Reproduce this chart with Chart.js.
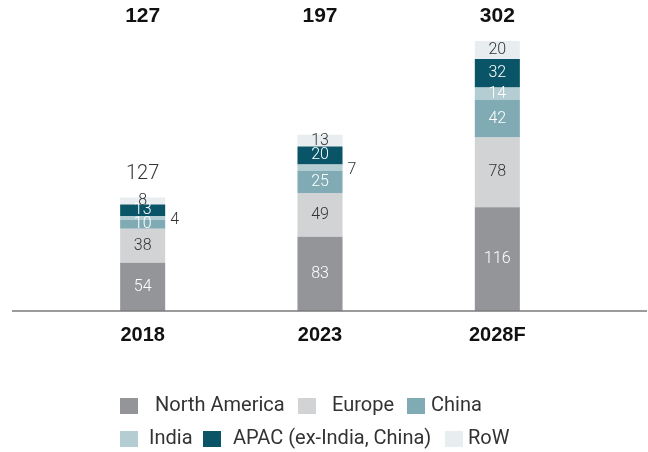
<!DOCTYPE html>
<html>
<head>
<meta charset="utf-8">
<script src="https://cdn.jsdelivr.net/npm/chart.js@4"></script>
<style>
  body { margin: 0; background: #fff; }
</style>
</head>
<body>
<canvas id="marketChart" width="648" height="452"></canvas>
<script>
'use strict';

// Data
const categories = ['2018', '2023', '2028F'];
const northAmerica = [54, 83, 116];
const europe = [38, 49, 78];
const china = [10, 25, 42];
const india = [4, 7, 14];
const apac = [13, 20, 32];
const restOfWorld = [8, 13, 20];

const labelFont = 'Roboto, "Open Sans", sans-serif';
const boldFont = '"Liberation Sans", Arial, sans-serif';

// Value labels in / beside each segment, plus totals
const segmentLabels = {
  id: 'segmentLabels',
  afterDatasetsDraw(chart) {
    const ctx = chart.ctx;
    ctx.save();
    ctx.font = '300 16px ' + labelFont;
    ctx.textBaseline = 'middle';
    chart.data.datasets.forEach((ds, di) => {
      const meta = chart.getDatasetMeta(di);
      meta.data.forEach((bar, i) => {
        const v = ds.data[i];
        if (ds.label === 'India' && v < 10) {
          ctx.fillStyle = '#333';
          ctx.textAlign = 'left';
          ctx.fillText(String(v), bar.x + bar.width / 2 + 5, (bar.y + bar.base) / 2 + 2);
        } else {
          ctx.fillStyle = ds.labelColor;
          ctx.textAlign = 'center';
          ctx.fillText(String(v), bar.x, (bar.y + bar.base) / 2);
        }
      });
    });

    // totals
    const last = chart.getDatasetMeta(chart.data.datasets.length - 1);
    categories.forEach((c, i) => {
      const total = chart.data.datasets.reduce((s, ds) => s + ds.data[i], 0);
      const bar = last.data[i];
      ctx.fillStyle = '#111';
      ctx.textAlign = 'center';
      ctx.font = 'bold 21px ' + boldFont;
      ctx.fillText(String(total), bar.x, 16);
      if (i === 0) {
        ctx.fillStyle = '#333';
        ctx.font = '300 20px ' + labelFont;
        ctx.fillText(String(total), bar.x, bar.y - 23);
      }
    });

    // baseline
    ctx.strokeStyle = '#7a7a7a';
    ctx.lineWidth = 1.5;
    ctx.beginPath();
    ctx.moveTo(12, chart.chartArea.bottom);
    ctx.lineTo(647, chart.chartArea.bottom);
    ctx.stroke();
    ctx.restore();
  }
};

// Legend drawn in two rows like the original
const legendRows = {
  id: 'legendRows',
  afterDraw(chart) {
    const ctx = chart.ctx;
    const spots = [
      [120, 155, 406], [298, 332, 406], [407, 431, 406],
      [120, 149, 439], [203, 233, 439], [445, 468, 439],
    ];
    ctx.save();
    ctx.font = '20px ' + labelFont;
    ctx.textBaseline = 'middle';
    ctx.textAlign = 'left';
    chart.data.datasets.forEach((ds, i) => {
      const [bx, tx, y] = spots[i];
      ctx.fillStyle = ds.backgroundColor;
      ctx.fillRect(bx, y - 8, 18, 16);
      ctx.fillStyle = '#333';
      ctx.fillText(ds.label, tx, y);
    });
    ctx.restore();
  }
};

const marketData = {
  labels: categories,
  datasets: [
    { label: 'North America', data: northAmerica, backgroundColor: '#939598', labelColor: '#fff' },
    { label: 'Europe', data: europe, backgroundColor: '#d1d3d4', labelColor: '#333' },
    { label: 'China', data: china, backgroundColor: '#80abb4', labelColor: '#fff' },
    { label: 'India', data: india, backgroundColor: '#b3cdd2', labelColor: '#fff' },
    { label: 'APAC (ex-India, China)', data: apac, backgroundColor: '#0a5467', labelColor: '#fff' },
    { label: 'RoW', data: restOfWorld, backgroundColor: '#e8eef0', labelColor: '#333' },
  ],
};

const marketConfig = {
  type: 'bar',
  data: marketData,
  options: {
    responsive: false,
    animation: false,
    datasets: {
      bar: { barPercentage: 0.254, categoryPercentage: 1, borderWidth: 0 },
    },
    layout: { padding: { top: 41, left: 54, right: 62, bottom: 93 } },
    plugins: { legend: { display: false }, tooltip: { enabled: false } },
    scales: {
      x: {
        stacked: true,
        grid: { display: false, drawTicks: false },
        border: { display: false },
        ticks: { padding: 12, color: '#111', font: { family: boldFont, size: 20, weight: 'bold' } },
      },
      y: {
        stacked: true,
        display: false,
        min: 0,
        max: 302,
      },
    },
  },
  plugins: [segmentLabels, legendRows],
};

const marketChart = new Chart(document.getElementById('marketChart'), marketConfig);
</script>
</body>
</html>
